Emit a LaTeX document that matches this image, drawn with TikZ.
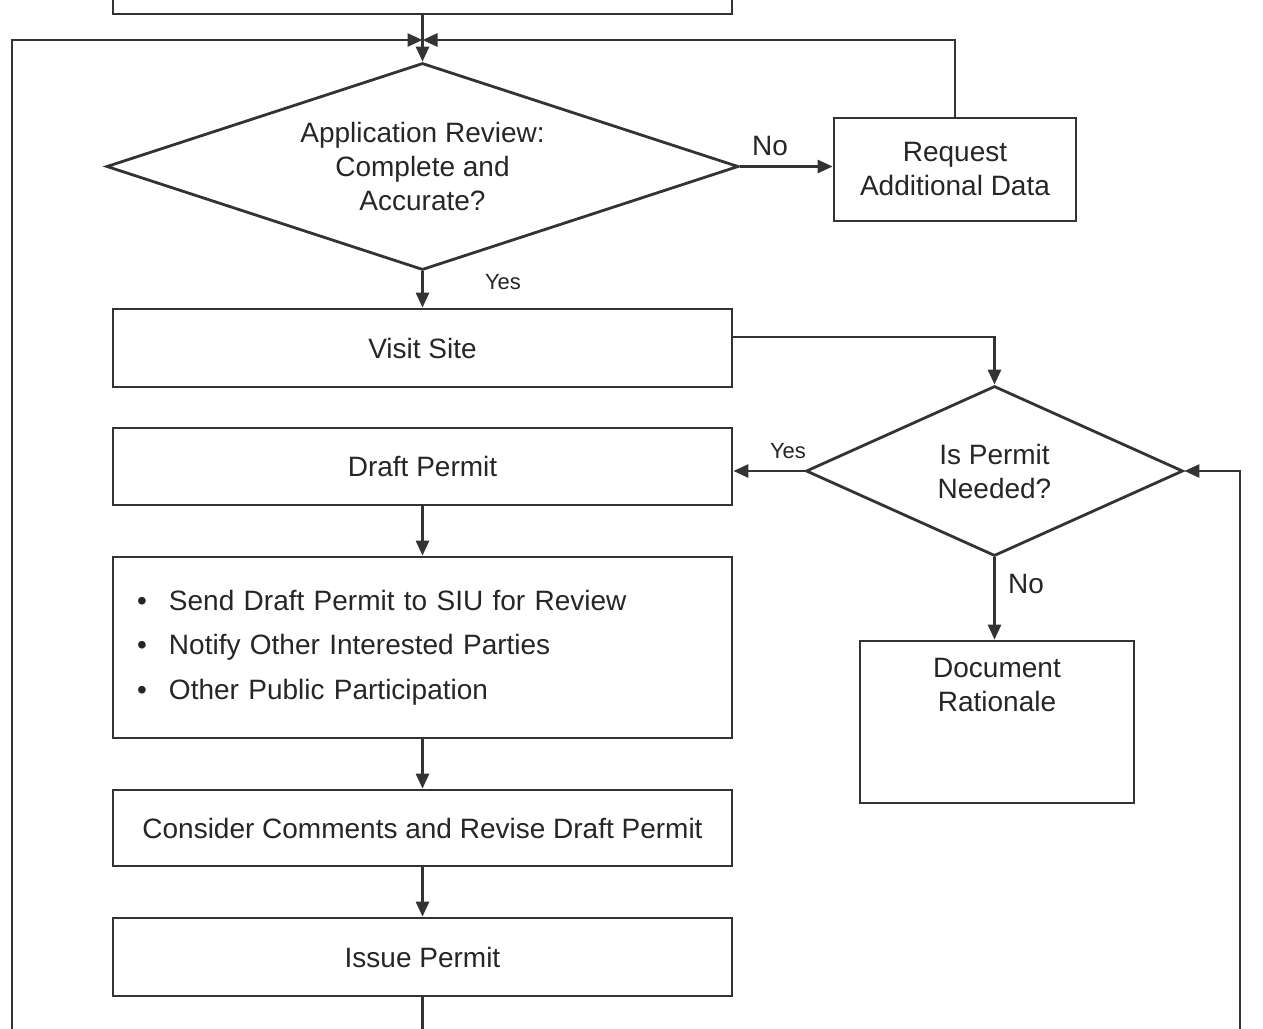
\documentclass[tikz,border=0pt]{standalone}
\usepackage{fontspec}
\setmainfont{Liberation Sans}
\usetikzlibrary{shapes.geometric,arrows.meta}
\begin{document}
\begin{tikzpicture}[x=1pt,y=-1pt,
 line width=2.8pt, draw=black!80, text=black!85,
 every node/.style={font=\fontsize{28}{34}\selectfont},
 box/.style={draw, rectangle, inner sep=0pt, minimum width=619pt},
 dia/.style={draw, diamond, inner sep=0pt, align=center},
 arr/.style={-{Triangle[length=15pt,width=13pt]}},
 lab/.style={font=\fontsize{22}{26}\selectfont},
]
\clip (0,0) rectangle (1263,1028);
\fill[white] (0,0) rectangle (1263,1028);

\node[box, minimum height=88pt] (top) at (422.5,-30) {};
\node[dia, aspect=3, minimum width=632pt, minimum height=207pt] (d1) at (422.5,166.5) {Application Review:\\Complete and\\Accurate?};
\node[box, minimum width=242pt, minimum height=103pt, align=center] (req) at (955,169.5) {Request\\Additional Data};
\node[box, minimum height=78pt] (visit) at (422.5,348) {Visit Site};
\node[box, minimum height=77pt] (draft) at (422.5,466.5) {Draft Permit};
\node[box, minimum height=181pt, text width=571pt, inner xsep=24pt, align=left, font=\fontsize{28}{44.5}\selectfont] (send) at (422.5,647.5)
 {\makebox[32pt][l]{\textbullet}Send Draft Permit to SIU for Review\\
  \makebox[32pt][l]{\textbullet}Notify Other Interested Parties\\
  \makebox[32pt][l]{\textbullet}Other Public Participation};
\node[box, minimum height=76pt] (cons) at (422.5,828) {Consider Comments and Revise Draft Permit};
\node[box, minimum height=78pt] (issue) at (422.5,957) {Issue Permit};
\node[dia, aspect=2.2, minimum width=377pt, minimum height=170pt] (d2) at (994.5,471) {Is Permit\\Needed?};
\node[box, minimum width=274pt, minimum height=162pt,
 label={[anchor=north,yshift=-14pt,align=center]north:Document\\Rationale}] (doc) at (997,722) {};

\coordinate (merge) at (422.5,40);
\coordinate (lb) at (12,1060);
\coordinate (rb) at (1240,1060);

\draw[arr] (top.south) -- (d1.north);
\draw[arr] (lb) |- (merge);
\draw[arr] (req.north) |- (merge);
\draw[arr] (d1.east) -- (d1.east -| req.west);
\draw[arr] (d1.south) -- (visit.north);
\draw[arr] ([yshift=11pt]visit.east) -| (d2.north);
\draw[arr] (d2.west) -- (d2.west -| draft.east);
\draw[arr] (draft.south) -- (send.north);
\draw[arr] (send.south) -- (cons.north);
\draw[arr] (cons.south) -- (issue.north);
\draw[arr] (d2.south) -- (d2.south |- doc.north);
\draw[arr] (rb) |- (d2.east);
\draw (issue.south) -- (issue.south |- lb);

\node (lno1) at (770,146) {No};
\node[lab] (lyes1) at (503,282) {Yes};
\node[lab] (lyes2) at (788,451) {Yes};
\node (lno2) at (1026,584) {No};
\end{tikzpicture}
\end{document}
